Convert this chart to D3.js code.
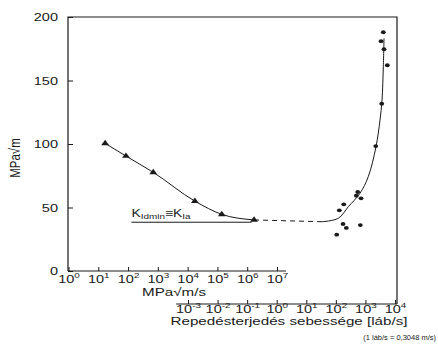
<!DOCTYPE html>
<html>
<head>
<meta charset="utf-8">
<script src="https://cdn.jsdelivr.net/npm/d3@7"></script>
<style>
  html, body { margin: 0; padding: 0; background: #fff; }
  svg { display: block; font-family: "Liberation Sans", Arial, sans-serif; }
</style>
</head>
<body>
<svg width="438" height="345"></svg>
<script>
"use strict";

// triangles: loading rate (MPa√m/s) vs K_Id (MPa√m)
const loadingRate = [17, 85, 700, 1.75e4, 1.4e5, 1.7e6];
const kIdValues = [100.5, 90.5, 77.7, 55, 44.6, 40.2];

// dots: crack speed (láb/s) vs K (MPa√m)
const crackSpeed = [4030, 3370, 4250, 5500, 3560, 2230, 548, 492, 710, 185, 131, 175, 226, 672, 107];
const kArrest = [188, 181, 174.6, 162, 131.7, 98.4, 62.2, 59.3, 57.2, 52.5, 47.8, 37, 33.9, 36.2, 28.6];

// fitted curve through the dots
const curveSpeed = [34, 121, 264, 656, 1250, 2280, 3110, 3640, 4030, 4250];
const curveK = [38.8, 41.5, 50.6, 61.2, 74.3, 97.9, 118.9, 134.6, 160.9, 183.2];

// K_Ia level
const kIaLevel = 38.4;
const kIaRange = [130, 1.4e6];

const yTicks = [0, 50, 100, 150, 200];
const loadExp = [0, 1, 2, 3, 4, 5, 6, 7];
const speedExp = [-3, -2, -1, 0, 1, 2, 3, 4];

const SX = 1.32;   // the figure is stretched sideways
const ink = '#1a1a1a';

const svg = d3.select('svg');

const plotLeft = 68, plotTop = 17, plotRight = 397, plotBottom = 271, lowAxisY = 304;

const y = d3.scaleLinear().domain([0, 200]).range([plotBottom, plotTop]);
const xLoad = d3.scaleLog().domain([1, 1e7]).range([68.5, 277]);
const xSpeed = d3.scaleLog().domain([1e-3, 1e4]).range([188, 395]);

// frame
svg.append('path')
    .attr('d', `M${plotLeft},${plotBottom}V${plotTop}H${plotRight}V${lowAxisY}`)
    .attr('fill', 'none')
    .attr('stroke', ink)
    .attr('stroke-width', 1.2);

svg.append('line')
    .attr('x1', plotLeft).attr('x2', xLoad(2e7))
    .attr('y1', plotBottom).attr('y2', plotBottom)
    .attr('stroke', ink).attr('stroke-width', 1.2);

svg.append('line')
    .attr('x1', xSpeed(Math.pow(10, -3.4))).attr('x2', plotRight)
    .attr('y1', lowAxisY).attr('y2', lowAxisY)
    .attr('stroke', ink).attr('stroke-width', 1.2);

function powLabels(g, exps) {
    g.selectAll('.tick text').each(function (d, i) {
        const t = d3.select(this).text(null);
        t.append('tspan').text('10');
        t.append('tspan')
            .attr('dy', -4.5)
            .attr('font-size', 7.5)
            .text(exps[i]);
    });
}

function styleAxis(g) {
    g.attr('font-size', 11)
        .attr('font-family', null)
        .style('color', ink);
    g.select('.domain').remove();
    g.selectAll('.tick text').attr('transform', `scale(${SX},1)`);
}

// y axis
const yAxis = svg.append('g')
    .attr('transform', `translate(${plotLeft},0)`)
    .call(d3.axisLeft(y).tickValues(yTicks).tickSize(-5).tickSizeOuter(0));
styleAxis(yAxis);
yAxis.selectAll('.tick text').attr('x', -10 / SX);

// loading rate axis
const loadAxis = svg.append('g')
    .attr('transform', `translate(0,${plotBottom})`)
    .call(d3.axisBottom(xLoad)
        .tickValues(loadExp.map(e => Math.pow(10, e)))
        .tickSize(-4).tickSizeOuter(0).tickPadding(4));
styleAxis(loadAxis);
powLabels(loadAxis, loadExp);

// crack speed axis
const speedAxis = svg.append('g')
    .attr('transform', `translate(0,${lowAxisY})`)
    .call(d3.axisBottom(xSpeed)
        .tickValues(speedExp.map(e => Math.pow(10, e)))
        .tickSize(-4).tickSizeOuter(0).tickPadding(1));
styleAxis(speedAxis);
powLabels(speedAxis, speedExp);

// axis titles
function stretchedText(x, yy, anchor, size, extra) {
    return svg.append('g')
        .attr('transform', `translate(${x},${yy}) scale(${SX},1)` + (extra || ''))
        .append('text')
        .attr('text-anchor', anchor)
        .attr('font-size', size)
        .attr('fill', ink);
}

stretchedText(20, 158, 'middle', 11.5, ' rotate(-90)').text('MPa√m');
stretchedText(174, 296, 'middle', 11.5).text('MPa√m/s');
stretchedText(289, 325, 'middle', 11.5).text('Repedésterjedés sebessége [láb/s]');
svg.append('text')
    .attr('x', 436).attr('y', 340)
    .attr('text-anchor', 'end')
    .attr('font-size', 7.5)
    .attr('fill', ink)
    .text('(1 láb/s = 0,3048 m/s)');

// K_Ia level line + label
svg.append('line')
    .attr('x1', xLoad(kIaRange[0])).attr('x2', xLoad(kIaRange[1]))
    .attr('y1', y(kIaLevel)).attr('y2', y(kIaLevel))
    .attr('stroke', ink).attr('stroke-width', 1);

const kLabel = stretchedText(xLoad(kIaRange[0]), y(kIaLevel) - 5, 'start', 10.5);
kLabel.append('tspan').text('K');
kLabel.append('tspan').attr('font-size', 7.5).attr('dy', 1.5).text('Idmin');
kLabel.append('tspan').attr('dy', -1.5).text('≡K');
kLabel.append('tspan').attr('font-size', 7.5).attr('dy', 1.5).text('Ia');

// loading rate curve
const loadPts = loadingRate.map((v, i) => [xLoad(v), y(kIdValues[i])]);
svg.append('path')
    .attr('d', d3.line().curve(d3.curveMonotoneX)(loadPts))
    .attr('fill', 'none').attr('stroke', ink).attr('stroke-width', 1);

// crack speed curve
const speedPts = curveSpeed.map((v, i) => [xSpeed(v), y(curveK[i])]);
svg.append('path')
    .attr('d', d3.line().curve(d3.curveCatmullRom.alpha(0.5))(speedPts))
    .attr('fill', 'none').attr('stroke', ink).attr('stroke-width', 1);

// dashed bridge between the two
svg.append('path')
    .attr('d', d3.line()([loadPts[loadPts.length - 1], speedPts[0]]))
    .attr('fill', 'none').attr('stroke', ink).attr('stroke-width', 1)
    .attr('stroke-dasharray', '5,4');

// triangles
svg.append('g').selectAll('path')
    .data(loadPts)
    .join('path')
    .attr('d', d3.symbol(d3.symbolTriangle, 17)())
    .attr('transform', d => `translate(${d[0]},${d[1]}) scale(1.25,1)`)
    .attr('fill', ink);

// dots
svg.append('g').selectAll('ellipse')
    .data(crackSpeed)
    .join('ellipse')
    .attr('cx', d => xSpeed(d))
    .attr('cy', (d, i) => y(kArrest[i]))
    .attr('rx', 2.4).attr('ry', 1.9)
    .attr('fill', ink);
</script>
</body>
</html>
